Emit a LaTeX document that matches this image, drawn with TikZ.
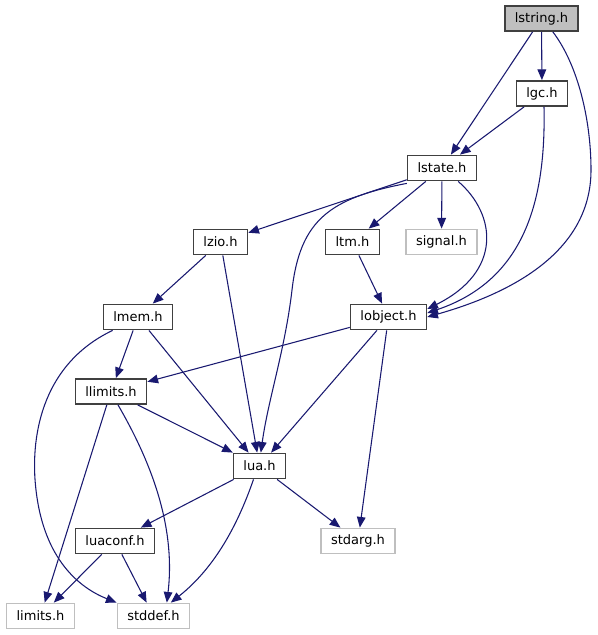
\documentclass[tikz,border=0pt]{standalone}
\usepackage{fontspec}
\setmainfont{DejaVu Sans}
\usetikzlibrary{arrows.meta}
\definecolor{edgeblue}{HTML}{191970}
\tikzset{
  hdr/.style={draw=black!75, line width=1.1pt, fill=white,
    font=\fontsize{9.75}{11}\selectfont,
    inner xsep=7.5pt, inner ysep=0pt, minimum height=19pt},
  roothdr/.style={hdr, fill=black!25},
  syshdr/.style={hdr, draw=black!25},
  dep/.style={draw=edgeblue, line width=0.8pt,
    -{Triangle[length=8pt,width=6.5pt]}}
}

\begin{document}
\begin{tikzpicture}[x=0.75pt, y=-0.75pt]
  \useasboundingbox (0,0) rectangle (598,635);

  % Header files, one row per level
  \node[roothdr] (lstring) at (541.5, 18.5) {lstring.h};
  \node[hdr] (lgc) at (542, 93.5) {lgc.h};
  \node[hdr] (lstate) at (442, 168) {lstate.h};
  \node[hdr] (lzio) at (220.5, 242) {lzio.h};
  \node[hdr] (ltm) at (352.5, 242) {ltm.h};
  \node[syshdr] (signal) at (441.5, 242) {signal.h};
  \node[hdr] (lmem) at (138, 317) {lmem.h};
  \node[hdr] (lobject) at (388.5, 317) {lobject.h};
  \node[hdr] (llimits) at (111, 391.5) {llimits.h};
  \node[hdr] (lua) at (259.5, 466) {lua.h};
  \node[hdr] (luaconf) at (115, 541) {luaconf.h};
  \node[syshdr] (stdarg) at (358, 541) {stdarg.h};
  \node[syshdr] (limits) at (40.5, 616) {limits.h};
  \node[syshdr] (stddef) at (153.5, 616) {stddef.h};

  % Straight includes
  \draw[dep] (lstring) -- (lgc);
  \draw[dep] (lstring) -- (lstate);
  \draw[dep] (lgc) -- (lstate);
  \draw[dep] (lstate) -- (lzio);
  \draw[dep] (lstate) -- (ltm);
  \draw[dep] (lstate) -- (signal);
  \draw[dep] (lzio) -- (lmem);
  \draw[dep] (lzio) -- (lua);
  \draw[dep] (ltm) -- (lobject);
  \draw[dep] (lobject) -- (llimits);
  \draw[dep] (lobject) -- (lua);
  \draw[dep] (lobject) -- (stdarg);
  \draw[dep] (lmem) -- (llimits);
  \draw[dep] (lmem) -- (lua);
  \draw[dep] (llimits) -- (lua);
  \draw[dep] (llimits) -- (limits);
  \draw[dep] (lua) -- (luaconf);
  \draw[dep] (lua) -- (stdarg);
  \draw[dep] (luaconf) -- (limits);
  \draw[dep] (luaconf) -- (stddef);

  % Curved includes
  \draw[dep] (lstring.south east) ++(-26,0)
    .. controls (578,65) and (591,120) .. (591,170)
    .. controls (591,255) and (505,295) .. (lobject.east);
  \draw[dep] (lgc.south) ++(2,0)
    .. controls (546,200) and (525,280) .. ([yshift=3pt]lobject.east);
  \draw[dep] (lstate.south east) ++(-19,0)
    .. controls (497,215) and (502,272) .. ([yshift=6pt]lobject.east);
  \draw[dep] (lstate.south west) ++(0,2)
    .. controls (330,198) and (300,220) .. (292,290)
    .. controls (285,350) and (268,400) .. ([xshift=1pt]lua.north);
  \draw[dep] (lmem.south west) ++(10,0)
    .. controls (40,365) and (30,440) .. (36,490)
    .. controls (44,560) and (80,588) .. (stddef.north west);
  \draw[dep] (llimits.south) ++(7,0)
    .. controls (150,460) and (176,525) .. ([xshift=10pt]stddef.north);
  \draw[dep] (lua.south) ++(-6,0)
    .. controls (236,530) and (212,570) .. ([xshift=13pt]stddef.north);
\end{tikzpicture}
\end{document}
